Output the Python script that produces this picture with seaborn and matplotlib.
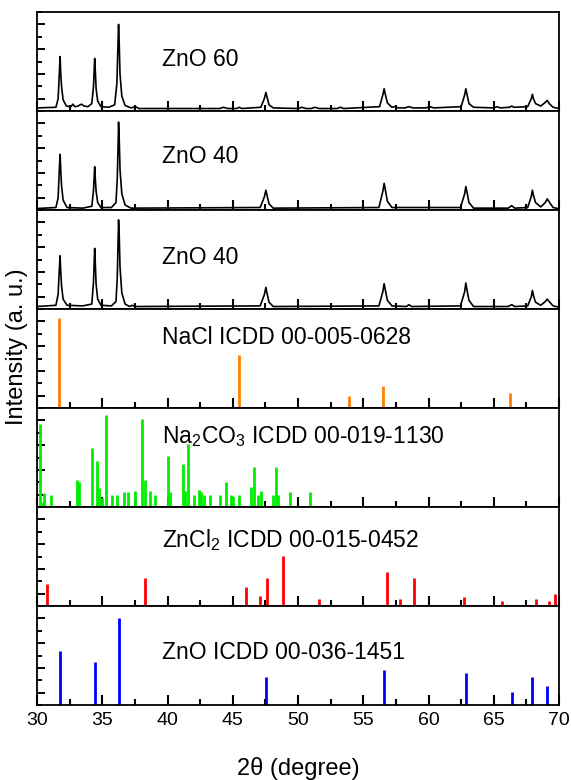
import numpy as np
import matplotlib
matplotlib.use("Agg")
import matplotlib.pyplot as plt
from matplotlib.ticker import MultipleLocator, NullFormatter
import seaborn as sns

# ---- measured XRD traces: (2theta, intensity) vertices ----
zno60_pts = [
    (30.0, 0.25), (31.45, 0.3), (31.62, 1.0), (31.70, 2.8), (31.77, 4.4), (31.82, 3.0),
    (31.88, 2.0), (32.0, 0.9), (32.25, 0.4), (32.6, 0.35), (32.75, 0.55), (32.9, 0.35),
    (33.15, 0.4), (33.3, 0.5), (33.42, 0.55), (33.6, 0.4), (33.9, 0.35), (34.2, 0.6),
    (34.33, 2.0), (34.42, 4.25), (34.47, 3.2), (34.53, 1.8), (34.65, 0.8), (34.9, 0.35),
    (35.5, 0.3), (35.95, 0.5), (36.12, 2.2), (36.2, 5.2), (36.25, 7.0), (36.3, 5.5),
    (36.36, 3.0), (36.5, 1.2), (36.75, 0.45), (37.2, 0.25), (37.55, 0.35), (37.8, 0.2),
    (38.5, 0.2), (44.0, 0.2), (44.3, 0.3), (44.6, 0.2), (45.3, 0.2), (45.5, 0.3),
    (45.7, 0.2), (47.15, 0.3), (47.42, 1.0), (47.54, 1.5), (47.62, 1.15), (47.78, 0.5),
    (48.1, 0.25), (50.0, 0.2), (50.3, 0.3), (50.6, 0.2), (51.0, 0.2), (51.3, 0.3),
    (51.6, 0.2), (53.0, 0.2), (53.25, 0.3), (53.5, 0.2), (56.25, 0.35), (56.5, 1.3),
    (56.6, 1.8), (56.68, 1.4), (56.85, 0.65), (57.2, 0.3), (57.4, 0.35), (57.65, 0.25),
    (58.2, 0.25), (58.5, 0.35), (58.8, 0.25), (59.8, 0.25), (60.1, 0.35), (60.4, 0.25),
    (62.5, 0.35), (62.77, 1.3), (62.86, 1.8), (62.94, 1.4), (63.1, 0.6), (63.45, 0.3),
    (65.0, 0.25), (65.25, 0.35), (65.5, 0.25), (66.2, 0.3), (66.38, 0.4), (66.55, 0.3),
    (67.6, 0.35), (67.88, 1.0), (67.96, 1.35), (68.04, 1.0), (68.2, 0.6), (68.6, 0.4),
    (68.95, 0.7), (69.1, 0.85), (69.25, 0.6), (69.55, 0.3), (70.0, 0.2),
]

zno40a_pts = [
    (30.0, 0.12), (31.45, 0.2), (31.62, 1.0), (31.70, 3.0), (31.77, 4.5), (31.82, 3.2),
    (31.88, 2.0), (32.0, 0.8), (32.3, 0.2), (33.5, 0.15), (34.2, 0.3), (34.33, 1.6),
    (34.42, 3.5), (34.47, 2.5), (34.53, 1.5), (34.65, 0.6), (34.9, 0.2), (35.7, 0.2),
    (36.05, 0.6), (36.15, 2.5), (36.22, 5.5), (36.25, 7.1), (36.3, 5.8), (36.36, 3.3),
    (36.5, 1.3), (36.75, 0.4), (37.2, 0.15), (47.1, 0.2), (47.42, 1.05), (47.54, 1.6),
    (47.62, 1.2), (47.78, 0.5), (48.1, 0.15), (56.2, 0.2), (56.5, 1.5), (56.6, 2.15),
    (56.68, 1.7), (56.85, 0.7), (57.2, 0.2), (62.45, 0.2), (62.77, 1.3), (62.86, 1.9),
    (62.94, 1.5), (63.1, 0.6), (63.45, 0.15), (66.1, 0.15), (66.38, 0.35), (66.6, 0.15),
    (67.6, 0.2), (67.88, 1.1), (67.96, 1.6), (68.04, 1.2), (68.2, 0.6), (68.6, 0.25),
    (68.95, 0.6), (69.1, 0.9), (69.25, 0.65), (69.55, 0.2), (70.0, 0.1),
]

zno40b_pts = [
    (30.0, 0.2), (31.45, 0.3), (31.62, 1.2), (31.70, 3.0), (31.77, 4.3), (31.82, 3.0),
    (31.88, 1.9), (32.0, 0.8), (32.3, 0.3), (33.5, 0.25), (34.2, 0.4), (34.33, 2.2),
    (34.42, 4.9), (34.47, 3.6), (34.53, 2.0), (34.65, 0.8), (34.9, 0.3), (35.7, 0.25),
    (36.05, 0.6), (36.15, 2.5), (36.22, 5.8), (36.25, 7.2), (36.3, 6.0), (36.36, 3.4),
    (36.5, 1.3), (36.75, 0.4), (37.1, 0.2), (37.3, 0.3), (37.5, 0.2), (47.1, 0.25),
    (47.42, 1.15), (47.54, 1.75), (47.62, 1.3), (47.78, 0.55), (48.1, 0.2), (56.2, 0.25),
    (56.5, 1.4), (56.6, 2.05), (56.68, 1.6), (56.85, 0.7), (57.2, 0.25), (58.3, 0.2),
    (58.5, 0.35), (58.7, 0.2), (62.45, 0.25), (62.77, 1.4), (62.86, 2.1), (62.94, 1.6),
    (63.1, 0.7), (63.45, 0.2), (66.1, 0.2), (66.38, 0.35), (66.6, 0.2), (67.6, 0.25),
    (67.88, 1.0), (67.96, 1.5), (68.04, 1.1), (68.2, 0.55), (68.6, 0.3), (68.95, 0.6),
    (69.1, 0.8), (69.25, 0.6), (69.55, 0.25), (70.0, 0.15),
]

# ---- reference cards: peak positions (2theta) and relative intensities ----
nacl_pos = [31.69, 45.45, 53.87, 56.48, 66.23]
nacl_int = [7.25, 4.3, 1.0, 1.77, 1.18]

na2co3_pos = [30.20, 30.45, 30.56, 31.10, 33.03, 33.20, 34.20, 34.56, 34.75, 35.00,
              35.30, 35.75, 36.10, 36.65, 37.00, 37.50, 38.05, 38.26, 38.66, 39.03,
              40.03, 40.17, 41.17, 41.35, 41.56, 42.04, 42.40, 42.60, 42.80, 43.28,
              44.00, 44.50, 44.84, 45.05, 45.45, 46.37, 46.64, 46.96, 47.17, 48.09,
              48.30, 48.50, 49.36, 50.92]
na2co3_int = [6.7, 0.4, 1.1, 0.97, 2.2, 2.0, 4.8, 3.7, 1.5, 0.7,
              7.4, 0.97, 0.97, 1.2, 1.2, 1.3, 7.1, 2.2, 1.3, 1.0,
              4.1, 1.2, 3.45, 1.3, 5.1, 1.0, 1.4, 1.2, 1.0, 1.0,
              1.0, 2.0, 1.0, 0.83, 1.0, 1.65, 3.2, 1.0, 1.3, 1.0,
              3.2, 1.0, 1.2, 1.25]

zncl2_pos = [30.78, 38.31, 45.98, 47.11, 47.62, 48.83, 51.60, 56.81, 57.82, 58.87,
             62.70, 65.66, 68.23, 69.23, 69.68]
zncl2_int = [1.8, 2.3, 1.5, 0.8, 2.3, 4.07, 0.54, 2.76, 0.54, 2.25,
             0.73, 0.4, 0.54, 0.4, 0.95]

zno_pos = [31.77, 34.42, 36.25, 47.54, 56.60, 62.86, 66.38, 67.96, 69.10]
zno_int = [4.4, 3.5, 7.0, 2.3, 2.85, 2.6, 1.08, 2.3, 1.54]

panel_labels = [
    "ZnO 60",
    "ZnO 40",
    "ZnO 40",
    "NaCl ICDD 00-005-0628",
    "Na$_2$CO$_3$ ICDD 00-019-1130",
    "ZnCl$_2$ ICDD 00-015-0452",
    "ZnO ICDD 00-036-1451",
]
label_heights = [0.52, 0.545, 0.525, 0.71, 0.71, 0.67, 0.535]

x_ticks = [30, 35, 40, 45, 50, 55, 60, 65, 70]

# ---- styling ----
sns.set_style("ticks")
plt.rcParams["font.family"] = ["Liberation Sans", "DejaVu Sans"]
plt.rcParams["mathtext.default"] = "regular"
plt.rcParams["axes.linewidth"] = 1.3
plt.rcParams["axes.edgecolor"] = "black"
plt.rcParams["xtick.color"] = "black"
plt.rcParams["ytick.color"] = "black"
plt.rcParams["text.color"] = "black"
plt.rcParams["axes.labelcolor"] = "black"

fig, axes = plt.subplots(7, 1, figsize=(5.71, 7.8), dpi=100, sharex=True,
                         gridspec_kw=dict(hspace=0))
fig.subplots_adjust(left=37 / 571, right=559 / 571, top=1 - 12 / 780, bottom=1 - 705 / 780)

traces = [zno60_pts, zno40a_pts, zno40b_pts]
for ax, pts in zip(axes[:3], traces):
    xs, ys = zip(*pts)
    sns.lineplot(x=list(xs), y=list(ys), ax=ax, color="black", linewidth=1.2,
                 estimator=None, sort=False)

sticks = [
    (axes[3], nacl_pos, nacl_int, "#FF8000"),
    (axes[4], na2co3_pos, na2co3_int, "#00EE00"),
    (axes[5], zncl2_pos, zncl2_int, "#FF0000"),
    (axes[6], zno_pos, zno_int, "#0000FF"),
]
for ax, pos, inten, col in sticks:
    ax.vlines(pos, 0, inten, colors=col, linewidth=2.0)

for i, ax in enumerate(axes):
    ax.set_xlim(30, 70)
    ax.set_ylim(0, 8)
    ax.xaxis.set_major_locator(MultipleLocator(5))
    ax.xaxis.set_minor_locator(MultipleLocator(2.5))
    ax.yaxis.set_major_locator(MultipleLocator(2, offset=1))
    ax.yaxis.set_minor_locator(MultipleLocator(1))
    ax.yaxis.set_major_formatter(NullFormatter())
    ax.set_ylabel("")
    ax.set_xlabel("")
    ax.text(39.6, label_heights[i] * 8, panel_labels[i], fontsize=16.5,
            va="center", ha="left", color="black")
    for side in ax.spines.values():
        side.set_visible(True)
        side.set_linewidth(1.3)
        side.set_color("black")

for i, ax in enumerate(axes):
    ax.tick_params(axis="x", which="major", direction="in", length=7.5, width=1.5,
                   bottom=True, top=False, labelbottom=(i == 6), labelsize=14,
                   pad=5, colors="black")
    ax.tick_params(axis="x", which="minor", direction="in", length=4, width=1.5,
                   bottom=True, top=False, colors="black")
    ax.tick_params(axis="y", which="major", direction="in", length=5.5, width=1.4,
                   left=True, right=False, labelleft=False, colors="black")
    ax.tick_params(axis="y", which="minor", direction="in", length=3.6, width=1.4,
                   left=True, right=False, colors="black")

axes[-1].set_xlabel("2\u03b8 (degree)", fontsize=17, labelpad=20)
fig.text(0.03, 1 - 347 / 780, "Intensity (a. u.)", rotation=90, fontsize=17,
         ha="center", va="center")

fig.savefig("out.png", dpi=100)
